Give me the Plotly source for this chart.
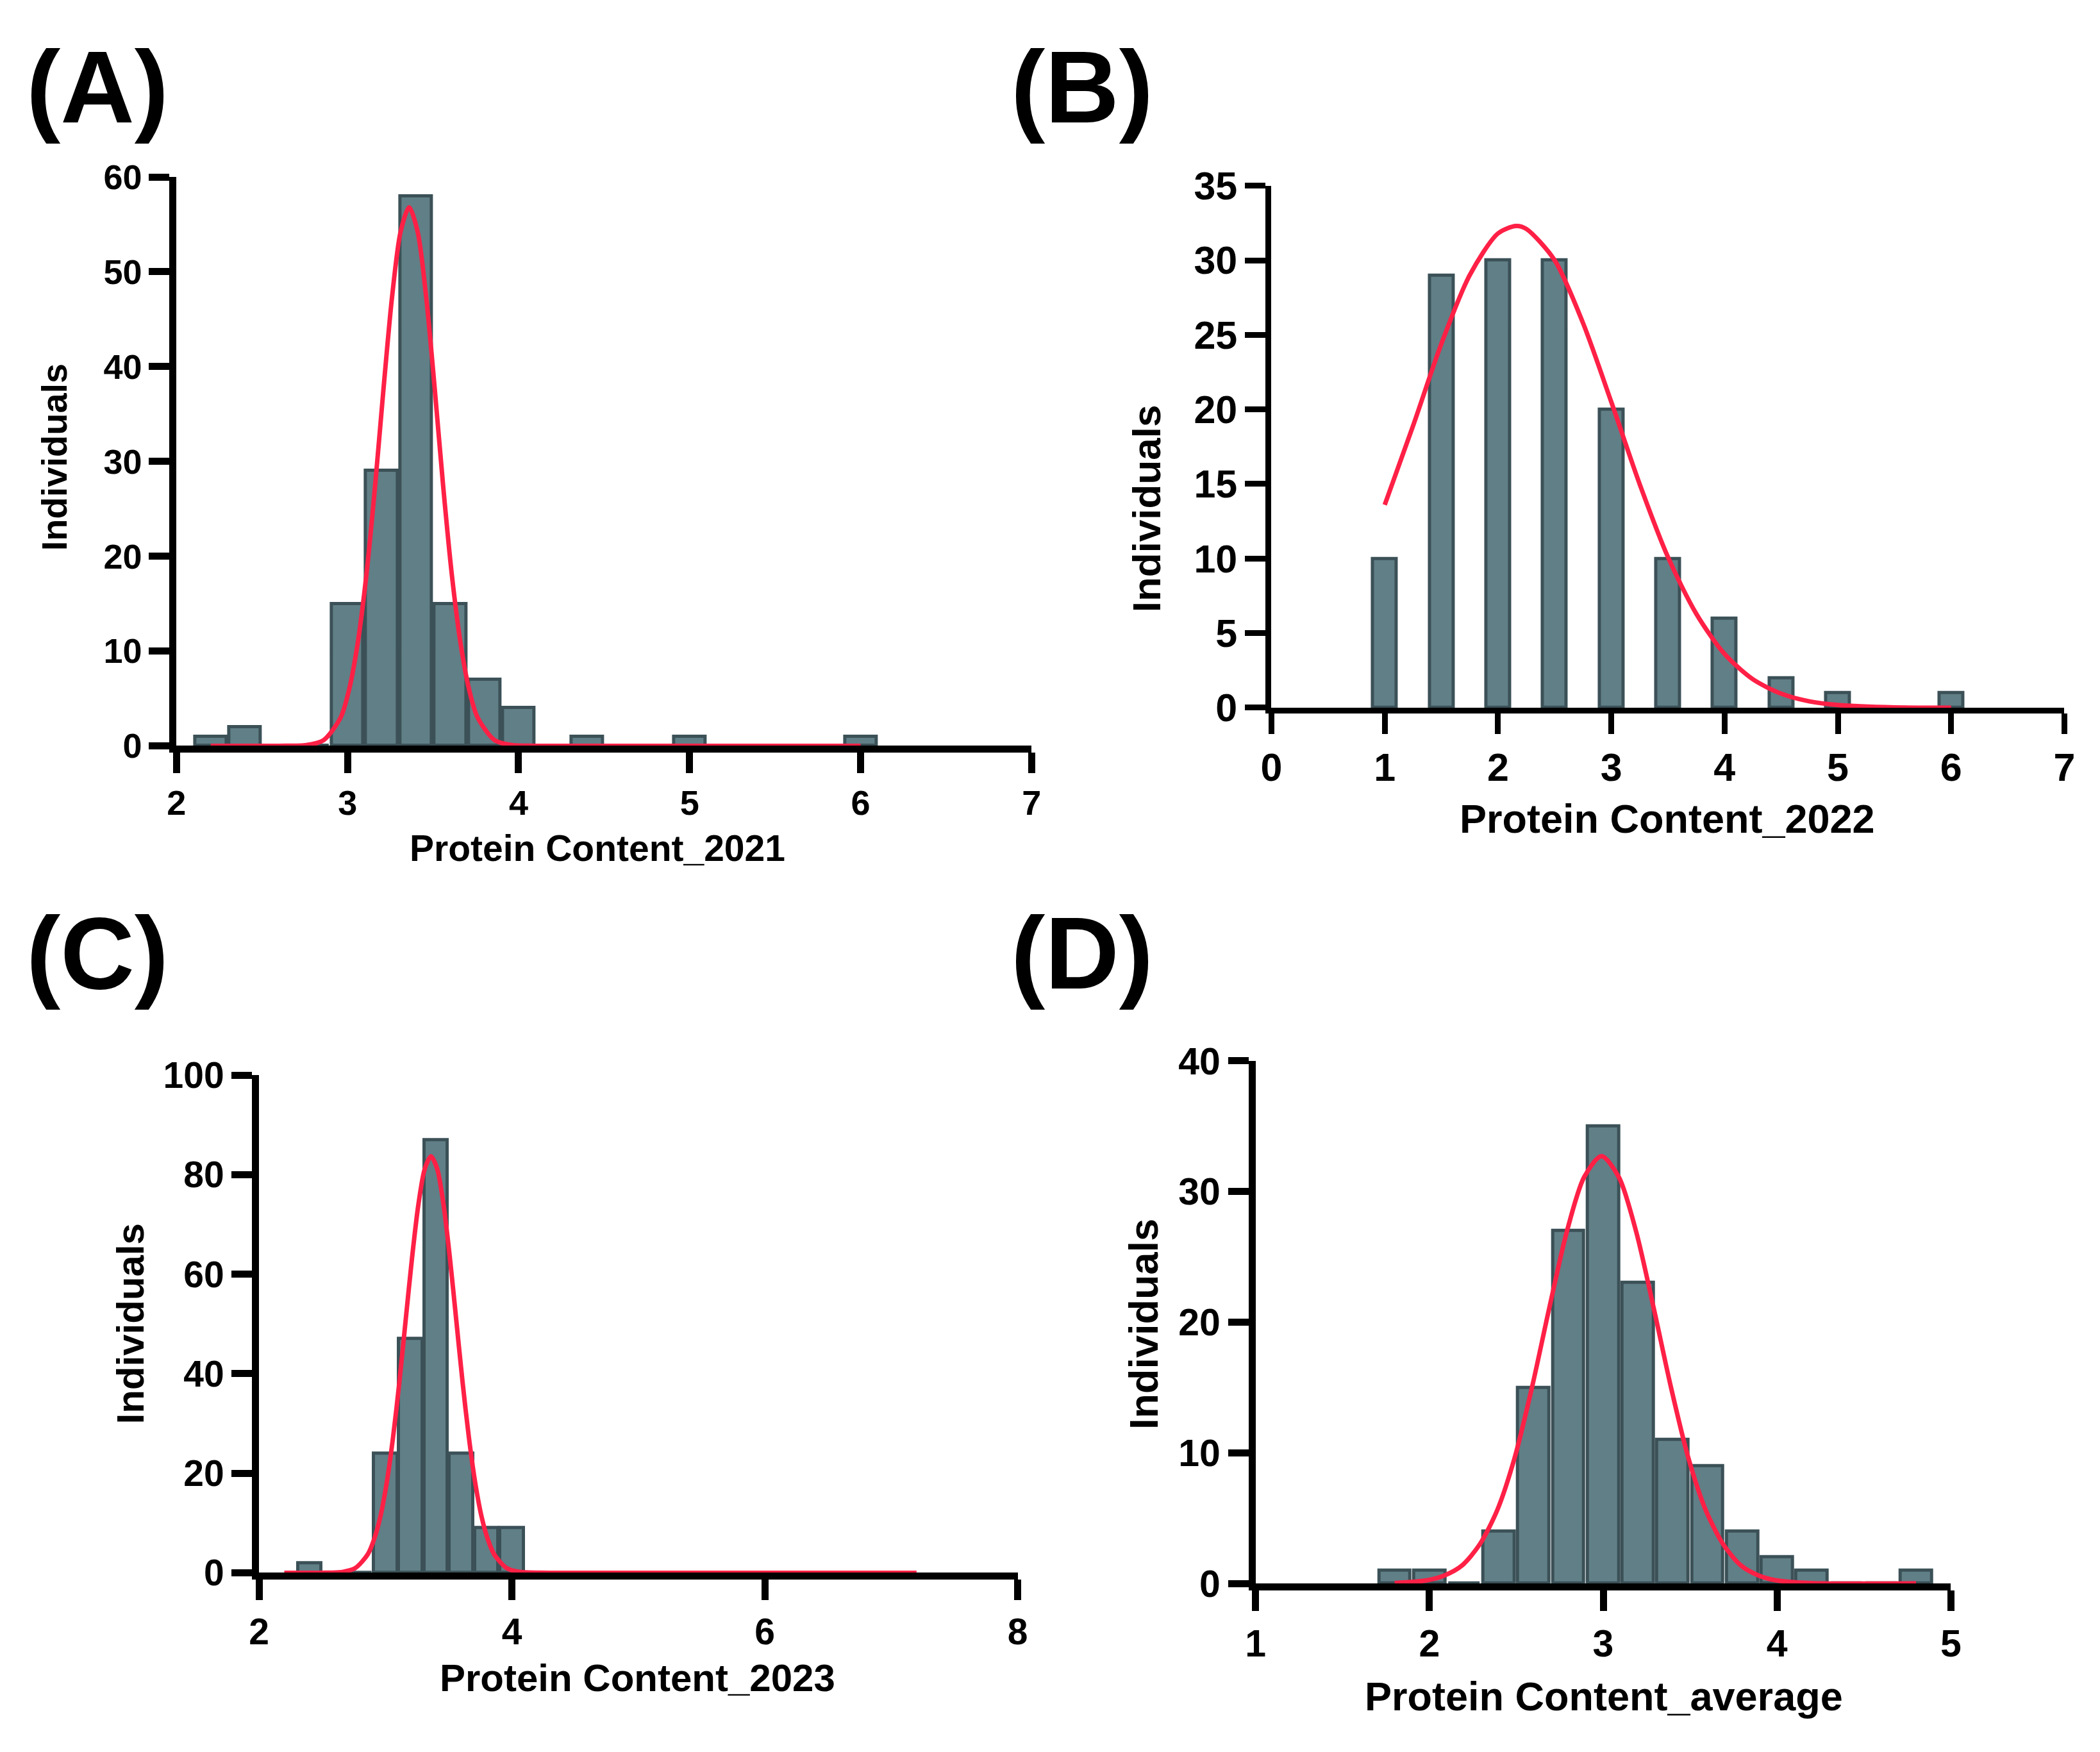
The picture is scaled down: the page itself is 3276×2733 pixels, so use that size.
import plotly.graph_objects as go

# bar centres (bin midpoints) and counts
a_bins = [2.2, 2.4, 2.6, 2.8, 3.0, 3.2, 3.4, 3.6, 3.8, 4.0, 4.2, 4.4, 4.6, 4.8, 5.0, 5.2, 5.4, 5.6, 5.8, 6.0]
a_counts = [1, 2, 0, 0, 15, 29, 58, 15, 7, 4, 0, 1, 0, 0, 1, 0, 0, 0, 0, 1]

b_bins = [1.0, 1.5, 2.0, 2.5, 3.0, 3.5, 4.0, 4.5, 5.0, 5.5, 6.0]
b_counts = [10, 29, 30, 30, 20, 10, 6, 2, 1, 0, 1]

c_bins = [2.4, 2.6, 2.8, 3.0, 3.2, 3.4, 3.6, 3.8, 4.0, 4.2, 4.4, 4.6, 4.8, 5.0, 5.2, 5.4, 5.6, 5.8, 6.0, 6.2, 6.4, 6.6, 6.8, 7.0]
c_counts = [2, 0, 0, 24, 47, 87, 24, 9, 9, 0, 0, 0, 0, 0, 0, 0, 0, 0, 0, 0, 0, 0, 0, 0]

d_bins = [1.8, 2.0, 2.2, 2.4, 2.6, 2.8, 3.0, 3.2, 3.4, 3.6, 3.8, 4.0, 4.2, 4.4, 4.6, 4.8]
d_counts = [1, 1, 0, 4, 15, 27, 35, 23, 11, 9, 4, 2, 1, 0, 0, 1]

# red fitted curves
a_fit_x = [2.2, 2.6, 2.76, 2.86, 2.96, 3.01, 3.06, 3.11, 3.16, 3.21, 3.26, 3.31, 3.36,
           3.41, 3.46, 3.51, 3.56, 3.61, 3.66, 3.71, 3.76, 3.86, 3.96, 4.1, 6.0]
a_fit_y = [0, 0, 0.08, 0.6, 3.0, 6.0, 10.9, 18.0, 27.2, 37.6, 47.3, 54.2, 56.8,
           54.2, 47.3, 37.6, 27.2, 18.0, 10.9, 6.0, 3.0, 0.6, 0.08, 0, 0]

b_fit_x = [1.0, 1.25, 1.5, 1.75, 2.0, 2.16, 2.25, 2.5, 2.75, 3.0, 3.25, 3.5, 3.75,
           4.0, 4.25, 4.5, 4.75, 5.0, 5.5, 6.0]
b_fit_y = [13.6, 18.9, 24.4, 29.0, 31.8, 32.3, 32.1, 30.0, 25.8, 20.5, 15.0, 10.1, 6.3,
           3.6, 1.9, 0.94, 0.42, 0.18, 0.02, 0]

c_fit_x = [2.2, 2.56, 2.66, 2.76, 2.86, 2.91, 2.96, 3.01, 3.06, 3.11, 3.16, 3.21, 3.26, 3.31,
           3.36, 3.41, 3.46, 3.51, 3.56, 3.61, 3.66, 3.71, 3.76, 3.81, 3.86, 3.96, 4.06, 4.3, 7.2]
c_fit_y = [0, 0.03, 0.18, 0.93, 3.7, 6.7, 11.3, 18.1, 27.2, 38.3, 50.8, 63.2, 73.9, 81.1,
           83.7, 81.1, 73.9, 63.2, 50.8, 38.3, 27.2, 18.1, 11.3, 6.7, 3.7, 0.93, 0.18, 0, 0]

d_fit_x = [1.8, 1.99, 2.09, 2.19, 2.29, 2.39, 2.49, 2.59, 2.69, 2.79, 2.89, 2.99,
           3.09, 3.19, 3.29, 3.39, 3.49, 3.59, 3.69, 3.79, 3.89, 3.99, 4.19, 4.8]
d_fit_y = [0.03, 0.25, 0.63, 1.4, 3.0, 5.6, 9.6, 15.0, 21.1, 26.9, 31.1, 32.7,
           31.1, 26.9, 21.1, 15.0, 9.6, 5.6, 3.0, 1.4, 0.63, 0.25, 0.03, 0]

W, H = 3276, 2733
OFF = 8  # the page body margin pushes the figure 8px right/down
FONT = "Liberation Sans, Arial, sans-serif"
BAR_FILL = "#617f87"
BAR_EDGE = "#3b5157"
RED = "#ff2046"


def px_x(p):
    return (p - OFF) / W


def px_y(p):
    return 1 - (p - OFF) / H


# letter, bins, counts, fit x, fit y, bar width, xrange, xdtick, yrange, ydtick,
# x domain px, y domain px (top, bottom), axis lw, tick font, title font, x title
panels = [
    ("A", a_bins, a_counts, a_fit_x, a_fit_y, 0.185, [2, 7], 1, [0, 60], 10,
     (261, 1609), (248, 1158), 11, 54, 57, "Protein Content_2021"),
    ("B", b_bins, b_counts, b_fit_x, b_fit_y, 0.21, [0, 7], 1, [0, 35], 5,
     (1987, 3237), (262, 1097), 9, 61, 63, "Protein Content_2022"),
    ("C", c_bins, c_counts, c_fit_x, c_fit_y, 0.185, [2, 8], 2, [0, 100], 20,
     (391, 1587), (1685, 2481), 11, 57, 60, "Protein Content_2023"),
    ("D", d_bins, d_counts, d_fit_x, d_fit_y, 0.18, [1, 5], 1, [0, 40], 10,
     (1962, 3058), (1662, 2498), 11, 59, 63, "Protein Content_average"),
]

# title / label positions in pixels (x title centre, y title centre, letter centre)
xtitle_pos = {"A": (925, 1322), "B": (2611, 1274), "C": (988, 2649), "D": (2511, 2678)}
ytitle_pos = {"A": (69, 696), "B": (1790, 779), "C": (188, 2083), "D": (1786, 2083)}
ytitle_size = {"A": 56, "B": 62, "C": 60, "D": 63}
letter_pos = {"A": (136, 104), "B": (1688, 104), "C": (136, 1489), "D": (1688, 1489)}

fig = go.Figure()
annotations = []

for i, (name, bins, counts, fx, fy, bw, xr, xdt, yr, ydt, xd, yd, lw, tfs, ttfs, xtitle) in enumerate(panels):
    n = "" if i == 0 else str(i + 1)
    xa, ya = "x" + n, "y" + n
    fig.add_trace(go.Bar(
        x=bins, y=counts, width=bw, xaxis=xa, yaxis=ya,
        marker=dict(color=BAR_FILL, line=dict(color=BAR_EDGE, width=5)),
        showlegend=False))
    fig.add_trace(go.Scatter(
        x=fx, y=fy, mode="lines", xaxis=xa, yaxis=ya,
        line=dict(color=RED, width=7, shape="spline", smoothing=0.8),
        showlegend=False))

    ax = dict(domain=[px_x(xd[0]), px_x(xd[1])], range=xr, dtick=xdt, tick0=xr[0],
              showline=True, linecolor="black", linewidth=lw,
              ticks="outside", ticklen=32, tickwidth=lw, tickcolor="black",
              showgrid=False, zeroline=False, anchor=ya,
              tickfont=dict(family=FONT, size=tfs, color="black", weight="bold"))
    ay = dict(domain=[px_y(yd[1]), px_y(yd[0])], range=yr, dtick=ydt, tick0=0,
              showline=True, linecolor="black", linewidth=lw,
              ticks="outside", ticklen=32, tickwidth=lw, tickcolor="black",
              showgrid=False, zeroline=False, anchor=xa,
              tickfont=dict(family=FONT, size=tfs, color="black", weight="bold"))
    fig.update_layout({"xaxis" + n: ax, "yaxis" + n: ay})

    tx, ty = xtitle_pos[name]
    annotations.append(dict(text=xtitle, x=px_x(tx), y=px_y(ty), xref="paper", yref="paper",
                            showarrow=False, xanchor="center", yanchor="middle",
                            font=dict(family=FONT, size=ttfs, color="black", weight="bold")))
    yx, yy = ytitle_pos[name]
    annotations.append(dict(text="Individuals", x=px_x(yx), y=px_y(yy), xref="paper", yref="paper",
                            showarrow=False, textangle=-90, xanchor="center", yanchor="middle",
                            font=dict(family=FONT, size=ytitle_size[name], color="black", weight="bold")))
    lx, ly = letter_pos[name]
    annotations.append(dict(text="(" + name + ")", x=px_x(lx), y=px_y(ly), xref="paper", yref="paper",
                            showarrow=False, xanchor="center", yanchor="middle",
                            font=dict(family=FONT, size=160, color="black", weight="bold")))

fig.update_layout(
    width=W, height=H,
    margin=dict(l=0, r=0, t=0, b=0),
    paper_bgcolor="white", plot_bgcolor="white",
    bargap=0, annotations=annotations)

fig.write_html("out.html")
